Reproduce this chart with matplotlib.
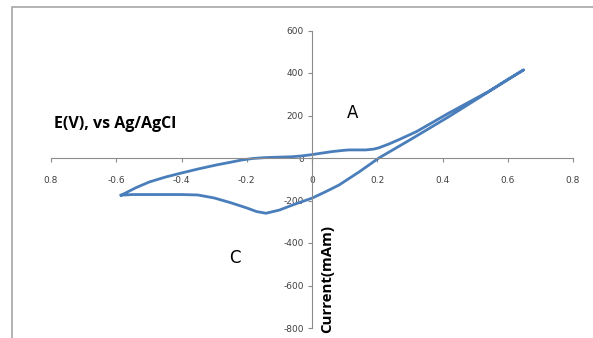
import numpy as np
import matplotlib.pyplot as plt
from matplotlib.patches import Rectangle

plt.rcParams['axes.unicode_minus'] = False

# forward (anodic) scan, from the left tip to the upper right end
E_fwd = [-0.585, -0.54, -0.499, -0.45, -0.401, -0.35, -0.294, -0.25, -0.214, -0.18, -0.141,
         -0.1, -0.061, -0.03, 0.0, 0.03, 0.061, 0.09, 0.113, 0.14, 0.165, 0.19, 0.205,
         0.236, 0.266, 0.32, 0.37, 0.42, 0.48, 0.54, 0.6, 0.649]
I_fwd = [-175, -140, -113, -90, -71, -52, -33, -20, -9, -2, 2,
         4, 6, 10, 16, 23, 30, 35, 38, 38, 38, 42, 48,
         66, 86, 124, 168, 212, 262, 312, 370, 415]

# reverse (cathodic) scan, from the upper right end back to the left tip
E_rev = [0.649, 0.55, 0.42, 0.3, 0.205, 0.144, 0.083, 0.04, 0.0, -0.03, -0.061, -0.1,
         -0.141, -0.17, -0.2, -0.25, -0.3, -0.35, -0.4, -0.45, -0.5, -0.55, -0.585]
I_rev = [415, 320, 195, 85, 0, -66, -127, -160, -189, -205, -222, -245,
         -260, -252, -235, -210, -188, -174, -172, -172, -172, -172, -175]

x_ticks = [-0.8, -0.6, -0.4, -0.2, 0, 0.2, 0.4, 0.6, 0.8]
x_labels = ['0.8', '-0.6', '-0.4', '-0.2', '0', '0.2', '0.4', '0.6', '0.8']
y_ticks = [-800, -600, -400, -200, 0, 200, 400, 600]

fig = plt.figure(figsize=(5.93, 3.38), dpi=100)
# grey chart frame
fig.patches.append(Rectangle((12/593, -0.1), 1.2, 1 - 7/338 + 0.1, transform=fig.transFigure,
                             fill=False, edgecolor='#a6a6a6', linewidth=1.2))
ax = fig.add_axes([51/593, 10/338, 522/593, 297.5/338])

ax.plot(E_fwd + E_rev[1:], I_fwd + I_rev[1:], color='#4a7ebb', linewidth=2, solid_joinstyle='round')

ax.set_xlim(-0.8, 0.8)
ax.set_ylim(-800, 600)
ax.spines['left'].set_position(('data', 0))
ax.spines['bottom'].set_position(('data', 0))
ax.spines['top'].set_visible(False)
ax.spines['right'].set_visible(False)
for s in ['left', 'bottom']:
    ax.spines[s].set_color('#8c8c8c')
ax.set_xticks(x_ticks)
ax.set_xticklabels(x_labels)
ax.set_yticks(y_ticks)
ax.tick_params(axis='both', direction='out', length=3, color='#8c8c8c',
               labelsize=6.5, labelcolor='#404040', pad=10)
ax.tick_params(axis='y', pad=3)
ax.patch.set_alpha(0)

ax.text(-0.79, 160, 'E(V), vs Ag/AgCl', fontsize=11.5, fontweight='bold', family='Open Sans',
        va='center', ha='left')
ax.text(0.123, 212, 'A', fontsize=12, va='center', ha='center')
ax.text(-0.236, -472, 'C', fontsize=12, va='center', ha='center')
ax.text(0.046, -568, 'Current(mAm)', fontsize=10.8, fontweight='bold', family='Open Sans',
        rotation=90, va='center', ha='center')

fig.savefig('out.png', dpi=100)
